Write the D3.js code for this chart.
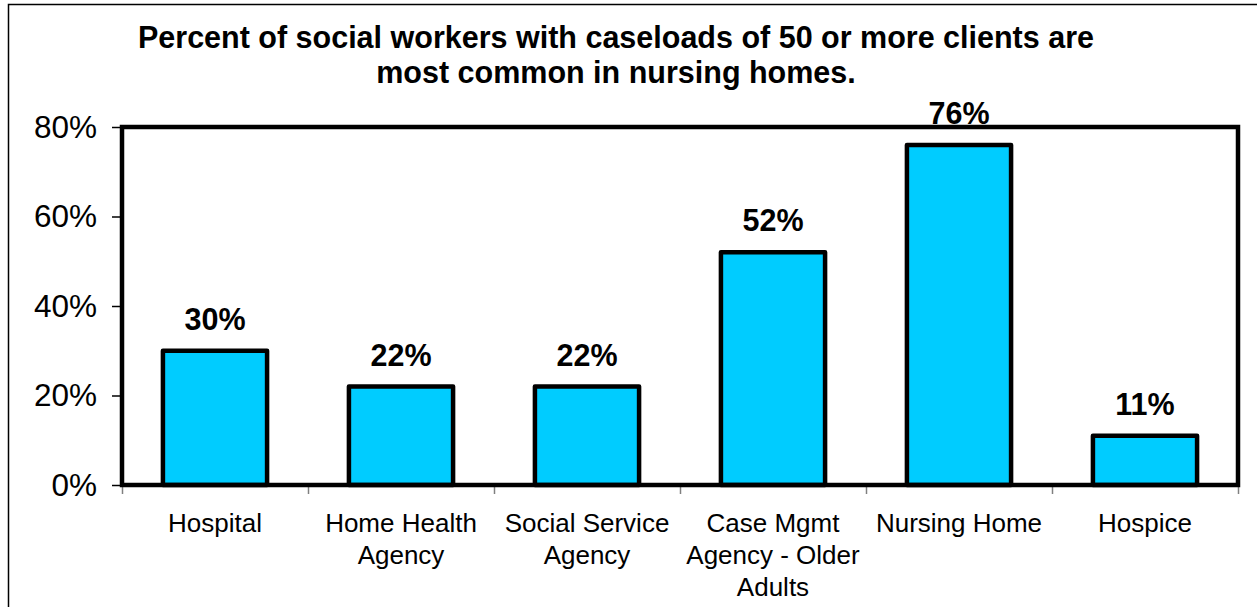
<!DOCTYPE html>
<html>
<head>
<meta charset="utf-8">
<script src="https://cdn.jsdelivr.net/npm/d3@7"></script>
<style>
  html, body { margin: 0; padding: 0; background: #fff; }
  svg { display: block; }
  text { font-family: "Liberation Sans", Arial, Helvetica, sans-serif; fill: #000; }
</style>
</head>
<body>
<svg id="chart" width="1257" height="607"></svg>
<script>
// Workplace settings and share of social workers carrying 50+ client caseloads
const categories = [
  "Hospital",
  "Home Health Agency",
  "Social Service Agency",
  "Case Mgmt Agency - Older Adults",
  "Nursing Home",
  "Hospice"
];
const percentValues = [30, 22, 22, 52, 76, 11];
const yTickValues = [0, 20, 40, 60, 80];
const titleLines = [
  "Percent of social workers with caseloads of 50 or more clients are",
  "most common in nursing homes."
];

const W = 1257, H = 607;
const plot = { left: 122, right: 1238, top: 127, bottom: 485 };

const svg = d3.select("#chart");

// outer frame of the slide object (runs off the right/bottom edges)
svg.append("rect")
  .attr("x", 8.5).attr("y", 4.5)
  .attr("width", W + 20).attr("height", H + 20)
  .attr("fill", "none").attr("stroke", "#000").attr("stroke-width", 1.5);

// title
svg.append("g").selectAll("text")
  .data(titleLines)
  .join("text")
  .attr("x", 616)
  .attr("y", (d, i) => 48 + i * 35)
  .attr("text-anchor", "middle")
  .attr("font-weight", "bold")
  .attr("font-size", 30.5)
  .text(d => d);

const x = d3.scaleBand()
  .domain(categories)
  .range([plot.left, plot.right])
  .paddingInner(0.44)
  .paddingOuter(0.22);

// category boundaries for the tick marks under the axis
const xEdges = d3.scaleLinear()
  .domain([0, categories.length])
  .range([plot.left, plot.right]);

const y = d3.scaleLinear()
  .domain([0, 80])
  .range([plot.bottom, plot.top]);

// y axis
const yAxis = svg.append("g")
  .attr("transform", `translate(${plot.left},0)`)
  .call(d3.axisLeft(y)
    .tickValues(yTickValues)
    .tickSize(10)
    .tickPadding(15)
    .tickFormat(d => d + "%"));
yAxis.select(".domain").remove();
yAxis.selectAll(".tick line").attr("stroke", "#000").attr("stroke-width", 1.5);
yAxis.selectAll(".tick text")
  .attr("font-size", 31.5)
  .attr("font-family", '"Liberation Sans", Arial, sans-serif')
  .attr("fill", "#000");

// x axis tick marks at category boundaries
const xAxis = svg.append("g")
  .attr("transform", `translate(0,${plot.bottom + 2})`)
  .call(d3.axisBottom(xEdges)
    .tickValues(d3.range(categories.length + 1))
    .tickSize(7)
    .tickFormat(""));
xAxis.select(".domain").remove();
xAxis.selectAll(".tick line").attr("stroke", "#808080").attr("stroke-width", 1.5);

// bars
svg.append("g").selectAll("rect")
  .data(categories)
  .join("rect")
  .attr("x", d => x(d))
  .attr("y", (d, i) => y(percentValues[i]))
  .attr("width", x.bandwidth())
  .attr("height", (d, i) => y(0) - y(percentValues[i]))
  .attr("fill", "#00CCFF")
  .attr("stroke", "#000")
  .attr("stroke-width", 4.5)
  .attr("stroke-linejoin", "round");

// plot area frame
svg.append("rect")
  .attr("x", plot.left).attr("y", plot.top)
  .attr("width", plot.right - plot.left)
  .attr("height", plot.bottom - plot.top)
  .attr("fill", "none")
  .attr("stroke", "#000")
  .attr("stroke-width", 4.5);

// value labels above bars
svg.append("g").selectAll("text")
  .data(categories)
  .join("text")
  .attr("x", d => x(d) + x.bandwidth() / 2)
  .attr("y", (d, i) => y(percentValues[i]) - 21)
  .attr("text-anchor", "middle")
  .attr("font-weight", "bold")
  .attr("font-size", 30.5)
  .text((d, i) => percentValues[i] + "%");

// category labels, wrapped to the category width
const labelG = svg.append("g");
const maxLabelWidth = 184;
categories.forEach(cat => {
  const cx = x(cat) + x.bandwidth() / 2;
  const t = labelG.append("text")
    .attr("x", cx)
    .attr("y", 532)
    .attr("text-anchor", "middle")
    .attr("font-size", 26);
  const words = cat.split(" ");
  let line = [];
  let tspan = t.append("tspan").attr("x", cx).attr("dy", 0);
  words.forEach(w => {
    line.push(w);
    tspan.text(line.join(" "));
    if (tspan.node().getComputedTextLength() > maxLabelWidth && line.length > 1) {
      line.pop();
      tspan.text(line.join(" "));
      line = [w];
      tspan = t.append("tspan")
        .attr("x", cx)
        .attr("dy", 32)
        .text(w);
    }
  });
});
</script>
</body>
</html>
